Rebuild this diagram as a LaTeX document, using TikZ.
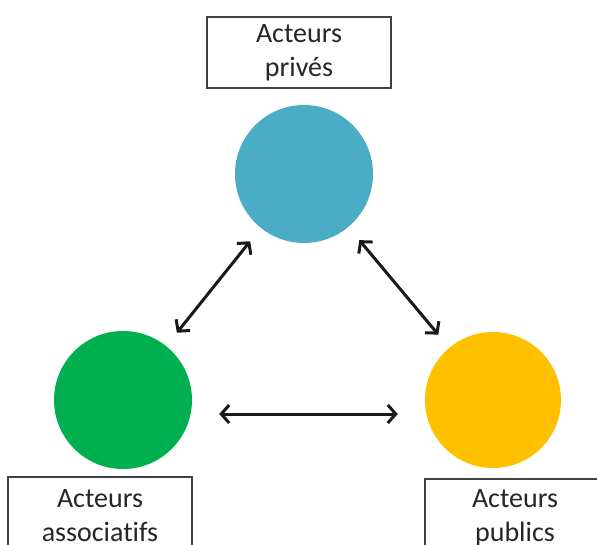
\documentclass[tikz,border=0pt]{standalone}
\usepackage{fontspec}
\setmainfont{Carlito}[Ligatures=NoCommon]
\usetikzlibrary{arrows.meta}
\definecolor{cblue}{HTML}{4BACC6}
\definecolor{cgreen}{HTML}{00B050}
\definecolor{cyellow}{HTML}{FFC000}
\definecolor{boxline}{HTML}{404040}
\definecolor{txt}{HTML}{262626}
\tikzset{
  actor/.style={circle, minimum size=#1, inner sep=0pt},
  label box/.style={draw=boxline, line width=1.6pt, fill=white, align=center,
    text=txt, font=\fontsize{28pt}{34pt}\selectfont, inner sep=0pt},
  link/.style={line width=3pt, draw=black!90, {Straight Barb[length=8pt,width=18pt,line width=3pt]}-{Straight Barb[length=8pt,width=18pt,line width=3pt]}}
}
\begin{document}
\begin{tikzpicture}[x=1pt,y=1pt]
\clip (0,0) rectangle (597,-544);
\fill[white] (0,0) rectangle (597,-544);
\node[actor=138pt, fill=cblue] (blue) at (304,-174) {};
\node[actor=138pt, fill=cgreen] (green) at (123,-400) {};
\node[actor=136pt, fill=cyellow] (yellow) at (493,-400) {};
\node[label box, minimum width=184pt, minimum height=71pt] (tbox) at (299,-52.5) {Acteurs\\privés};
\node[label box, minimum width=184pt, minimum height=78pt] (lbox) at (100,-516) {Acteurs\\associatifs};
\node[label box, minimum width=180pt, minimum height=78pt] (rbox) at (515,-518) {Acteurs\\publics};
\draw[link, shorten <=17pt, shorten >=17pt] (green) -- (blue);
\draw[link, shorten <=17pt, shorten >=17pt] (blue) -- (yellow);
\draw[link, shorten <=27pt, shorten >=27pt] ([yshift=-14pt]green.east) -- ([yshift=-14pt]yellow.west);
\end{tikzpicture}
\end{document}
